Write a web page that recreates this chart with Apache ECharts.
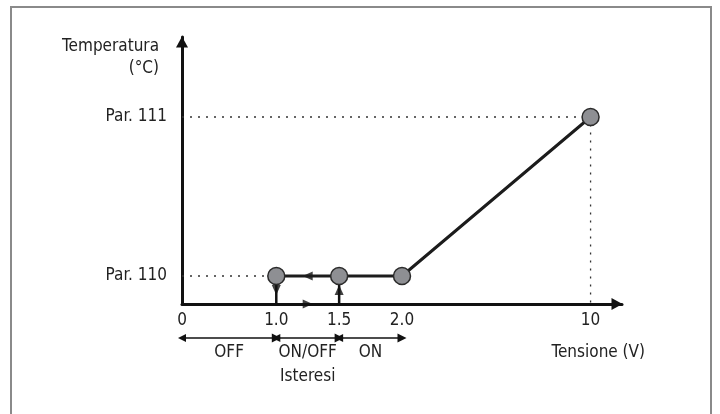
<!DOCTYPE html>
<html>
<head>
<meta charset="utf-8">
<script src="https://cdn.jsdelivr.net/npm/echarts@6/dist/echarts.min.js"></script>
<style>
  html, body { margin: 0; padding: 0; background: #fff; }
  #main { width: 720px; height: 414px; }
</style>
</head>
<body>
<div id="main"></div>
<script>
// categorie asse X (spazi vuoti = passo intermedio)
const xCategories = ['0', '', '', '1.0', '', '1.5', '', '2.0', '', '', '', '', '', '10', ''];
// punti della curva
const curveX = ['1.0', '1.5', '2.0', '10'];
const curveY = [110, 110, 110, 111];
// etichette asse Y
const yTickValues = [110, 111];
const yTickNames = ['Par. 110', 'Par. 111'];
// zone sotto l'asse
const zoneBounds = ['0', '1.0', '1.5', '2.0'];
const zoneNames = ['OFF', 'ON/OFF\nIsteresi', 'ON'];

const FONT = "'DejaVu Sans Condensed', 'Liberation Sans', sans-serif";
const FS = 17;
const yMin = 109.824, yMax = 111.503;
const ix = c => xCategories.indexOf(c);

const myChart = echarts.init(document.getElementById('main'));

const curveData = curveX.map((c, i) => [ix(c), curveY[i]]);
const yMid = (curveY[0] + yMin) / 2;

var option = {
  animation: false,
  graphic: [{
    type: 'rect',
    shape: { x: 11, y: 7, width: 700, height: 440 },
    style: { fill: 'none', stroke: '#8a8a8a', lineWidth: 2 }
  }],
  grid: [
    { left: 182, top: 37, width: 440, height: 267 },
    { left: 182, top: 328, width: 440, height: 20 }
  ],
  xAxis: [
    {
      type: 'category',
      gridIndex: 0,
      data: xCategories,
      boundaryGap: false,
      name: 'Tensione (V)',
      nameLocation: 'end',
      nameGap: 23,
      nameTextStyle: {
        fontFamily: FONT, fontSize: FS, color: '#222',
        align: 'right', verticalAlign: 'top', padding: [40, 0, 0, 0]
      },
      axisLine: {
        lineStyle: { color: '#111', width: 3 },
        symbol: ['none', 'triangle'],
        symbolSize: [12, 11],
        symbolOffset: [0, -5]
      },
      axisTick: { show: false },
      axisLabel: { interval: 0, margin: 8, fontFamily: FONT, fontSize: FS, color: '#222' },
      splitLine: { show: false }
    },
    {
      type: 'category',
      gridIndex: 1,
      data: xCategories,
      boundaryGap: false,
      show: false
    }
  ],
  yAxis: [
    {
      type: 'value',
      gridIndex: 0,
      min: yMin,
      max: yMax,
      name: 'Temperatura\n(°C)',
      nameLocation: 'end',
      nameGap: 1,
      nameTextStyle: {
        fontFamily: FONT, fontSize: FS, color: '#222', lineHeight: 22,
        align: 'right', verticalAlign: 'top', padding: [0, 23, 0, 0]
      },
      axisLine: {
        show: true,
        lineStyle: { color: '#111', width: 3 },
        symbol: ['none', 'triangle'],
        symbolSize: [12, 11],
        symbolOffset: [0, -5]
      },
      axisTick: { show: false },
      splitLine: { show: false },
      axisLabel: {
        customValues: yTickValues,
        formatter: v => yTickNames[yTickValues.indexOf(v)],
        margin: 15,
        fontFamily: FONT, fontSize: FS, color: '#222'
      }
    },
    { type: 'value', gridIndex: 1, min: 0, max: 1, show: false }
  ],
  series: [
    {
      // linee tratteggiate Par. 111
      type: 'line',
      data: [[0, curveY[3]], [ix('10'), curveY[3]], [ix('10'), yMin]],
      symbol: 'none',
      lineStyle: { color: '#333', width: 1.3, type: [2, 6] },
      z: 1
    },
    {
      // linea tratteggiata Par. 110
      type: 'line',
      data: [[0, curveY[0]], [ix('1.0'), curveY[0]]],
      symbol: 'none',
      lineStyle: { color: '#333', width: 1.3, type: [2, 6] },
      z: 1
    },
    {
      type: 'line',
      data: [[ix('1.0'), curveY[0]], [ix('1.0'), yMin]],
      symbol: 'none',
      lineStyle: { color: '#111', width: 2.5 },
      z: 2
    },
    {
      type: 'line',
      data: [[ix('1.5'), curveY[1]], [ix('1.5'), yMin]],
      symbol: 'none',
      lineStyle: { color: '#111', width: 2.5 },
      z: 2
    },
    {
      type: 'scatter',
      symbol: 'triangle',
      symbolSize: [9, 10],
      itemStyle: { color: '#111' },
      data: [
        { value: [ix('1.0'), yMid], symbolRotate: 180 },
        { value: [ix('1.5'), yMid], symbolRotate: 0 },
        { value: [4, curveY[0]], symbolRotate: 90 },
        { value: [4, yMin], symbolRotate: -90 }
      ],
      z: 4
    },
    {
      type: 'line',
      data: curveData,
      symbol: 'circle',
      symbolSize: 17,
      itemStyle: { color: '#8e8f93', borderColor: '#2b2b2b', borderWidth: 1.5 },
      lineStyle: { color: '#1c1c1c', width: 3 },
      z: 5
    },
    {
      type: 'lines',
      coordinateSystem: 'cartesian2d',
      xAxisIndex: 1,
      yAxisIndex: 1,
      clip: false,
      symbol: ['triangle', 'triangle'],
      symbolSize: [8, 9],
      lineStyle: { color: '#111', width: 1.5, opacity: 1, curveness: 0 },
      label: {
        show: true,
        position: 'insideMiddleBottom',
        distance: 3,
        formatter: p => zoneNames[p.dataIndex],
        fontFamily: FONT, fontSize: FS, lineHeight: 24, color: '#222'
      },
      data: zoneNames.map((n, i) => ({
        coords: [[ix(zoneBounds[i]), 0.5], [ix(zoneBounds[i + 1]), 0.5]]
      }))
    }
  ]
};

myChart.setOption(option);
</script>
</body>
</html>
